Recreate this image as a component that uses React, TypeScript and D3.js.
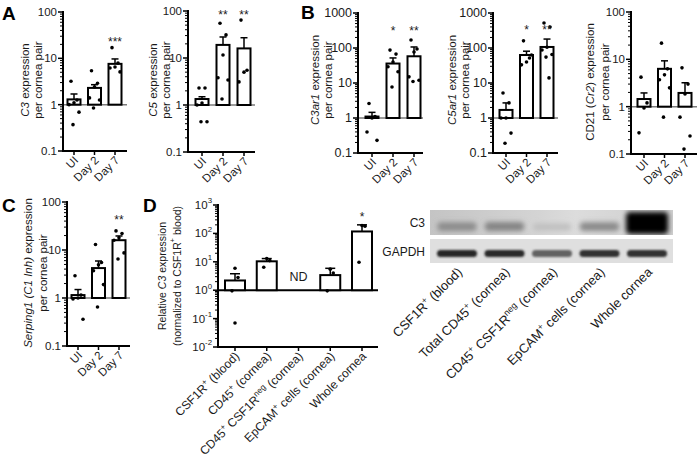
import React from "react";
import * as d3 from "d3";

// ---------------- DATA ----------------
const dayCategories = ["UI", "Day 2", "Day 7"];

// Panel A – C3
const c3Means = [1.3, 2.3, 7.6];
const c3ErrUpper = [1.7, 2.7, 9.7];
const c3Points = [
  [3.2, 1.26, 1.1, 1.0, 0.69, 0.37],
  [5.4, 2.9, 2.4, 1.4, 1.26, 0.85],
  [17, 7.9, 6.5, 6.2, 5.1],
];
const c3Stars = ["", "", "***"];
const c3StarLevel = 18.5;

// Panel A – C5
const c5Means = [1.34, 19, 16];
const c5ErrUpper = [1.5, 28, 27];
const c5Points = [
  [2.3, 2.3, 1.1, 1.0, 0.44, 0.44],
  [55, 31, 11.6, 3.8, 3.4, 1.34],
  [64, 5.5, 5.0, 3.1],
];
const c5Stars = ["", "**", "**"];
const c5StarLevel = 67;

// Panel B – C3ar1
const c3ar1Means = [1.1, 36, 58];
const c3ar1ErrUpper = [1.45, 52, 107];
const c3ar1Points = [
  [2.6, 1.1, 1.0, 0.4, 0.23],
  [87, 67, 40, 29, 21, 7.7],
  [170, 94, 77, 15, 12, 11],
];
const c3ar1Stars = ["", "*", "**"];
const c3ar1StarLevel = 235;

// Panel B – C5ar1
const c5ar1Means = [1.7, 63, 107];
const c5ar1ErrUpper = [2.7, 81, 180];
const c5ar1Points = [
  [5.2, 2.7, 1.0, 1.0, 0.37, 0.19],
  [160, 52, 40, 33, 63],
  [520, 400, 105, 88, 65, 55, 14],
];
const c5ar1Stars = ["", "*", "**"];
const c5ar1StarLevel = 251;

// Panel B – CD21 (Cr2)
const cd21Means = [1.45, 6.3, 1.95];
const cd21ErrUpper = [1.95, 9.3, 3.2];
const cd21Points = [
  [4.2, 1.2, 0.94, 0.28],
  [22, 6.3, 4.7, 3.7, 2.5, 0.6],
  [6.6, 3.0, 1.85, 0.6, 0.24, 0.127],
];
const cd21Stars = ["", "", ""];

// Panel C – Serping1
const serpMeans = [1.15, 4.2, 16];
const serpErrUpper = [1.5, 5.9, 19.6];
const serpPoints = [
  [2.9, 1.15, 1.0, 0.95, 0.36],
  [13, 5.5, 4.9, 3.7, 1.9, 0.65],
  [25, 22, 18, 16, 8.7, 6.5],
];
const serpStars = ["", "", "**"];
const serpStarLevel = 35;

// Panel D – relative C3 expression
const cellCategories = [
  "CSF1R^{+} (blood)",
  "CD45^{+} (cornea)",
  "CD45^{+} CSF1R^{neg} (cornea)",
  "EpCAM^{+} cells (cornea)",
  "Whole cornea",
];
const relMeans: (number | null)[] = [2.2, 10.4, null, 3.4, 117];
const relErrUpper: (number | null)[] = [3.8, 13, null, 5.9, 200];
const relPoints = [[5.9, 2.8, 0.95, 0.07], [13, 11, 6.4], [], [5.5, 4.0, 0.95], [190, 180, 9.7]];
const relStars = ["", "", "", "", "*"];
const relStarLevel = 273;
const relNotDetected = ["", "", "ND", "", ""];

// Western blot
const blotLanes = [
  "CSF1R^{+} (blood)",
  "Total CD45^{+} (cornea)",
  "CD45^{+} CSF1R^{neg} (cornea)",
  "EpCAM^{+} cells (cornea)",
  "Whole cornea",
];
const c3BandDensity = [0.33, 0.37, 0.08, 0.34, 1.0];
const gapdhBandDensity = [0.92, 0.9, 0.62, 0.85, 0.86];

// ---------------- HELPERS ----------------
const FONT = "'Liberation Sans', Arial, Helvetica, sans-serif";
const INK = "#1a1a1a";

type Part = { t: string; it?: boolean; sup?: boolean };
function parseRich(s: string): Part[] {
  const parts: Part[] = [];
  const re = /(\*\{[^}]*\}|\^\{[^}]*\})/g;
  let last = 0;
  let m: RegExpExecArray | null;
  while ((m = re.exec(s))) {
    if (m.index > last) parts.push({ t: s.slice(last, m.index) });
    const tok = m[0];
    if (tok[0] === "*") parts.push({ t: tok.slice(2, -1), it: true });
    else parts.push({ t: tok.slice(2, -1), sup: true });
    last = m.index + tok.length;
  }
  if (last < s.length) parts.push({ t: s.slice(last) });
  return parts;
}

function Rich({ s, size }: { s: string; size: number }) {
  const parts = parseRich(s);
  const shift = size * 0.4;
  let raised = false;
  return (
    <>
      {parts.map((p, i) => {
        let dy = 0;
        if (p.sup && !raised) {
          dy = -shift;
          raised = true;
        } else if (!p.sup && raised) {
          dy = shift;
          raised = false;
        }
        return (
          <tspan
            key={i}
            dy={dy || undefined}
            fontSize={p.sup ? size * 0.68 : undefined}
            fontStyle={p.it ? "italic" : undefined}
          >
            {p.t}
          </tspan>
        );
      })}
    </>
  );
}

type Spec = {
  categories: string[];
  means: (number | null)[];
  errs: (number | null)[];
  points: number[][];
  stars: string[];
  starLevel?: number;
  nd?: string[];
  domain: [number, number];
  tickFmt: (v: number) => string;
  labelLines: string[];
};
type Layout = {
  axisX: number;
  axisEnd: number;
  xFirst: number;
  xLast: number;
  yTop: number;
  yBottom: number;
  barW: number;
  capHalf: number;
  labelXs: number[];
  labelYc: number;
  labelFont: number;
  tickFont: number;
  xLabelFont: number;
  baseColor: string;
  baseWidth: number;
  jitter: number[];
};

const plainFmt = (v: number) => String(v);
const powFmt = (v: number) => `10^{${Math.round(Math.log10(v))}}`;

function LogBarChart({ spec, L }: { spec: Spec; L: Layout }) {
  const y = d3.scaleLog().domain(spec.domain).range([L.yBottom, L.yTop]);
  const x = d3.scalePoint<string>().domain(spec.categories).range([L.xFirst, L.xLast]);
  const e0 = Math.round(Math.log10(spec.domain[0]));
  const e1 = Math.round(Math.log10(spec.domain[1]));
  const majors: number[] = [];
  const minors: number[] = [];
  for (let e = e0; e <= e1; e++) {
    majors.push(Math.pow(10, e));
    if (e < e1) for (let k = 2; k <= 9; k++) minors.push(k * Math.pow(10, e));
  }
  const base = y(1);
  return (
    <g fontFamily={FONT} fill={INK}>
      <line x1={L.axisX} x2={L.axisEnd} y1={base} y2={base} stroke={L.baseColor} strokeWidth={L.baseWidth} />
      {spec.categories.map((c, i) => {
        const cx = x(c)!;
        const m = spec.means[i];
        const er = spec.errs[i];
        return (
          <g key={"b" + i}>
            {m != null && (
              <rect
                x={cx - L.barW / 2}
                y={Math.min(y(m), base)}
                width={L.barW}
                height={Math.abs(base - y(m))}
                fill="#fff"
                stroke="#000"
                strokeWidth={2}
              />
            )}
            {m != null && er != null && (
              <g stroke="#000" strokeWidth={1.5}>
                <line x1={cx} x2={cx} y1={y(m)} y2={y(er)} />
                <line x1={cx - L.capHalf} x2={cx + L.capHalf} y1={y(er)} y2={y(er)} />
              </g>
            )}
            {spec.points[i].map((v, j) => (
              <circle key={j} cx={cx + L.jitter[j % L.jitter.length]} cy={y(v)} r={1.8} fill="#000" />
            ))}
            {spec.stars[i] && spec.starLevel != null && (
              <text x={cx} y={y(spec.starLevel)} textAnchor="middle" fontSize={12}>
                {spec.stars[i]}
              </text>
            )}
            {spec.nd && spec.nd[i] && (
              <text x={cx} y={base - 9} textAnchor="middle" fontSize={12.5}>
                {spec.nd[i]}
              </text>
            )}
          </g>
        );
      })}
      {/* y axis */}
      <line x1={L.axisX} x2={L.axisX} y1={L.yTop - 1} y2={L.yBottom + 1} stroke="#000" strokeWidth={2} />
      {minors.map((v, i) => (
        <line key={"mi" + i} x1={L.axisX - 3} x2={L.axisX} y1={y(v)} y2={y(v)} stroke="#000" strokeWidth={1} />
      ))}
      {majors.map((v, i) => (
        <g key={"ma" + i}>
          <line x1={L.axisX - 5} x2={L.axisX} y1={y(v)} y2={y(v)} stroke="#000" strokeWidth={1.5} />
          <text x={L.axisX - 6} y={y(v)} textAnchor="end" dominantBaseline="central" fontSize={L.tickFont}>
            <Rich s={spec.tickFmt(v)} size={L.tickFont} />
          </text>
        </g>
      ))}
      {/* x axis */}
      <line x1={L.axisX - 1} x2={L.axisEnd} y1={L.yBottom} y2={L.yBottom} stroke="#000" strokeWidth={2} />
      {spec.categories.map((c, i) => {
        const cx = x(c)!;
        return (
          <g key={"x" + i}>
            <line x1={cx} x2={cx} y1={L.yBottom} y2={L.yBottom + 4} stroke="#000" strokeWidth={1.5} />
            <text
              transform={`translate(${cx + 5},${L.yBottom + 10}) rotate(-45)`}
              textAnchor="end"
              fontSize={L.xLabelFont}
            >
              <Rich s={c} size={L.xLabelFont} />
            </text>
          </g>
        );
      })}
      {spec.labelLines.map((t, i) => (
        <text
          key={"yl" + i}
          transform={`translate(${L.labelXs[i]},${L.labelYc}) rotate(-90)`}
          textAnchor="middle"
          dominantBaseline="central"
          fontSize={L.labelFont}
        >
          <Rich s={t} size={L.labelFont} />
        </text>
      ))}
    </g>
  );
}

const smallLayout = (o: Partial<Layout>): Layout => ({
  axisX: 0,
  axisEnd: 0,
  xFirst: 0,
  xLast: 0,
  yTop: 0,
  yBottom: 0,
  barW: 13,
  capHalf: 3.5,
  labelXs: [0, 0],
  labelYc: 0,
  labelFont: 11.5,
  tickFont: 11.5,
  xLabelFont: 11.5,
  baseColor: "#7a7a7a",
  baseWidth: 1.5,
  jitter: [-3, 3, 0, -5, 5, -1, 2],
  ...o,
});

function Blot() {
  const x = d3.scalePoint<string>().domain(blotLanes).range([457, 647]);
  const left = 430;
  const right = 673;
  const c3Top = 210;
  const c3Bot = 235;
  const gTop = 239;
  const gBot = 263;
  const c3Color = d3.interpolateRgb("#cfcfcf", "#050505");
  const gColor = d3.interpolateRgb("#e0e0e0", "#151515");
  return (
    <g fontFamily={FONT} fill={INK}>
      <defs>
        <filter id="blurC3" x="-30%" y="-80%" width="160%" height="260%">
          <feGaussianBlur stdDeviation="2.4" />
        </filter>
        <filter id="blurG" x="-30%" y="-80%" width="160%" height="260%">
          <feGaussianBlur stdDeviation="1.3" />
        </filter>
        <clipPath id="clipC3">
          <rect x={left} y={c3Top} width={right - left} height={c3Bot - c3Top} />
        </clipPath>
        <clipPath id="clipG">
          <rect x={left} y={gTop} width={right - left} height={gBot - gTop} />
        </clipPath>
        <linearGradient id="c3bg" x1="0" x2="1" y1="0" y2="0">
          <stop offset="0" stopColor="#c4c4c4" />
          <stop offset="0.45" stopColor="#d4d4d4" />
          <stop offset="0.6" stopColor="#dcdcdc" />
          <stop offset="1" stopColor="#cdcdcd" />
        </linearGradient>
      </defs>
      <rect x={left} y={c3Top} width={right - left} height={c3Bot - c3Top} fill="url(#c3bg)" />
      <g clipPath="url(#clipC3)">
        {blotLanes.map((l, i) => {
          const d = c3BandDensity[i];
          const h = 7 + 15 * d * d;
          const w = 38 + 4 * d;
          const cy = 227 - 4 * d * d;
          return (
            <rect
              key={i}
              x={x(l)! - w / 2}
              y={cy - h / 2}
              width={w}
              height={h}
              rx={4}
              fill={c3Color(d)}
              filter="url(#blurC3)"
            />
          );
        })}
      </g>
      <rect x={left} y={gTop} width={right - left} height={gBot - gTop} fill="#dfdfdf" />
      <g clipPath="url(#clipG)">
        {blotLanes.map((l, i) => {
          const d = gapdhBandDensity[i];
          return (
            <rect
              key={i}
              x={x(l)! - 20}
              y={253.5 - 3.5}
              width={40}
              height={7}
              rx={3.5}
              fill={gColor(d)}
              filter="url(#blurG)"
            />
          );
        })}
      </g>
      <text x={425} y={223} textAnchor="end" dominantBaseline="central" fontSize={12}>
        C3
      </text>
      <text x={425} y={252} textAnchor="end" dominantBaseline="central" fontSize={12}>
        GAPDH
      </text>
      {blotLanes.map((l, i) => (
        <text key={"bl" + i} transform={`translate(${x(l)! + 6},${273}) rotate(-45)`} textAnchor="end" fontSize={13}>
          <Rich s={l} size={13} />
        </text>
      ))}
    </g>
  );
}

export default function App() {
  const yLabel = (gene: string) => [`${gene} expression`, "per cornea pair"];
  return (
    <div style={{ position: "absolute", left: 0, top: 0 }}>
      <svg width={699} height={460} style={{ display: "block", background: "#fff" }}>
        <rect width={699} height={460} fill="#fff" />
        <LogBarChart
          spec={{
            categories: dayCategories,
            means: c3Means,
            errs: c3ErrUpper,
            points: c3Points,
            stars: c3Stars,
            starLevel: c3StarLevel,
            domain: [0.1, 100],
            tickFmt: plainFmt,
            labelLines: yLabel("*{C3}"),
          }}
          L={smallLayout({ axisX: 63, axisEnd: 127, xFirst: 74, xLast: 115, yTop: 12, yBottom: 151, labelXs: [25, 38], labelYc: 80 })}
        />
        <LogBarChart
          spec={{
            categories: dayCategories,
            means: c5Means,
            errs: c5ErrUpper,
            points: c5Points,
            stars: c5Stars,
            starLevel: c5StarLevel,
            domain: [0.1, 100],
            tickFmt: plainFmt,
            labelLines: yLabel("*{C5}"),
          }}
          L={smallLayout({ axisX: 188, axisEnd: 255, xFirst: 202, xLast: 244, yTop: 11, yBottom: 152, labelXs: [153, 166], labelYc: 80 })}
        />
        <LogBarChart
          spec={{
            categories: dayCategories,
            means: c3ar1Means,
            errs: c3ar1ErrUpper,
            points: c3ar1Points,
            stars: c3ar1Stars,
            starLevel: c3ar1StarLevel,
            domain: [0.1, 1000],
            tickFmt: plainFmt,
            labelLines: yLabel("*{C3ar1}"),
          }}
          L={smallLayout({ axisX: 358, axisEnd: 423, xFirst: 372, xLast: 414, yTop: 13, yBottom: 153, labelXs: [315, 328], labelYc: 80, tickFont: 12.5 })}
        />
        <LogBarChart
          spec={{
            categories: dayCategories,
            means: c5ar1Means,
            errs: c5ar1ErrUpper,
            points: c5ar1Points,
            stars: c5ar1Stars,
            starLevel: c5ar1StarLevel,
            domain: [0.1, 1000],
            tickFmt: plainFmt,
            labelLines: yLabel("*{C5ar1}"),
          }}
          L={smallLayout({ axisX: 493, axisEnd: 558, xFirst: 506, xLast: 547, yTop: 13, yBottom: 153, labelXs: [452, 465], labelYc: 80, tickFont: 12.5 })}
        />
        <LogBarChart
          spec={{
            categories: dayCategories,
            means: cd21Means,
            errs: cd21ErrUpper,
            points: cd21Points,
            stars: cd21Stars,
            domain: [0.1, 100],
            tickFmt: plainFmt,
            labelLines: ["CD21 (*{Cr2}) expression", "per cornea pair"],
          }}
          L={smallLayout({ axisX: 631, axisEnd: 697, xFirst: 644, xLast: 685, yTop: 12, yBottom: 154, labelXs: [590, 605], labelYc: 82 })}
        />
        <LogBarChart
          spec={{
            categories: dayCategories,
            means: serpMeans,
            errs: serpErrUpper,
            points: serpPoints,
            stars: serpStars,
            starLevel: serpStarLevel,
            domain: [0.1, 100],
            tickFmt: plainFmt,
            labelLines: ["*{Serping1 (C1 Inh)} expression", "per cornea pair"],
          }}
          L={smallLayout({ axisX: 67, axisEnd: 130, xFirst: 78, xLast: 119, yTop: 202, yBottom: 346, labelXs: [28, 43], labelYc: 273 })}
        />
        <LogBarChart
          spec={{
            categories: cellCategories,
            means: relMeans,
            errs: relErrUpper,
            points: relPoints,
            stars: relStars,
            starLevel: relStarLevel,
            nd: relNotDetected,
            domain: [0.01, 1000],
            tickFmt: powFmt,
            labelLines: ["Relative *{C3} expression", "(normalized to CSF1R^{+} blood)"],
          }}
          L={smallLayout({
            axisX: 218,
            axisEnd: 378,
            xFirst: 235,
            xLast: 362,
            yTop: 205,
            yBottom: 347,
            barW: 20,
            capHalf: 5,
            labelXs: [162, 177],
            labelYc: 276,
            labelFont: 10.5,
            tickFont: 11.5,
            xLabelFont: 12,
            baseColor: "#000",
            baseWidth: 2,
            jitter: [0, 3, -3, 0],
          })}
        />
        <Blot />
        <g fontFamily={FONT} fontWeight="bold" fontSize={19} fill="#000">
          <text x={2} y={20}>A</text>
          <text x={301} y={19}>B</text>
          <text x={2} y={212}>C</text>
          <text x={143} y={212}>D</text>
        </g>
      </svg>
    </div>
  );
}
